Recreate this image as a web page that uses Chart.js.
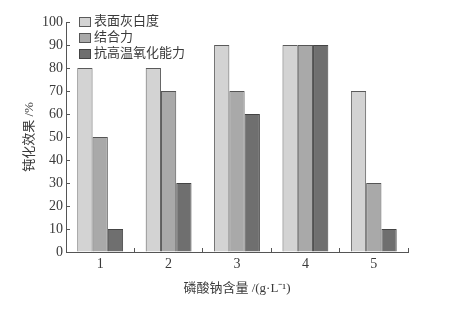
<!DOCTYPE html>
<html>
<head>
<meta charset="utf-8">
<script src="https://cdn.jsdelivr.net/npm/chart.js@4.4.0/dist/chart.umd.min.js"></script>
<style>
  body { margin: 0; background: #fff; }
  #wrap { width: 459px; height: 310px; }
</style>
</head>
<body>
<div id="wrap"><canvas id="chartPassivacao"></canvas></div>
<script>
// Dados do gráfico
const categorias = ['1', '2', '3', '4', '5'];
const nomesSeries = ['表面灰白度', '结合力', '抗高温氧化能力'];
const grisBranco = [80, 80, 90, 90, 70];   // 表面灰白度
const forcaLigacao = [50, 70, 70, 90, 30]; // 结合力
const antiOxidacao = [10, 30, 60, 90, 10]; // 抗高温氧化能力
const ticksY = [0, 10, 20, 30, 40, 50, 60, 70, 80, 90, 100];

const serif = "'Liberation Serif', 'Noto Sans CJK SC', serif";
const corTexto = '#3a3a3a';

// Legenda desenhada dentro da área do gráfico (canto superior esquerdo)
const legendaInterna = {
    id: 'legendaInterna',
    afterDraw(chart) {
        const ctx = chart.ctx;
        const x0 = chart.chartArea.left + 13;
        ctx.save();
        ctx.font = "13px " + serif;
        ctx.textBaseline = 'middle';
        chart.data.datasets.forEach((ds, i) => {
            const y = chart.chartArea.top + 16 * i;
            ctx.fillStyle = ds.backgroundColor;
            ctx.strokeStyle = ds.borderColor;
            ctx.lineWidth = 1;
            ctx.fillRect(x0 + 0.5, y - 4.5, 11, 9);
            ctx.strokeRect(x0 + 0.5, y - 4.5, 11, 9);
            ctx.fillStyle = corTexto;
            ctx.fillText(ds.label, x0 + 15, y);
        });
        ctx.restore();
    }
};

const ctxPassivacao = document.getElementById('chartPassivacao').getContext('2d');
const chartPassivacao = new Chart(ctxPassivacao, {
    type: 'bar',
    data: {
        labels: categorias,
        datasets: [
            { label: nomesSeries[0], data: grisBranco, backgroundColor: '#d3d3d3', borderColor: '#5a5a5a' },
            { label: nomesSeries[1], data: forcaLigacao, backgroundColor: '#a9a9a9', borderColor: '#555555' },
            { label: nomesSeries[2], data: antiOxidacao, backgroundColor: '#6f6f6f', borderColor: '#444444' },
        ].map(d => Object.assign(d, { borderWidth: 1, barPercentage: 1, categoryPercentage: 0.67 })),
    },
    options: {
        responsive: true,
        maintainAspectRatio: false,
        animation: false,
        layout: { padding: { left: 0, right: 51, top: 22, bottom: 0 } },
        plugins: {
            legend: { display: false },
            tooltip: { enabled: false },
        },
        scales: {
            x: {
                grid: { drawOnChartArea: false, drawTicks: true, tickLength: -4, color: '#555', offset: true },
                border: { color: '#555', width: 1 },
                ticks: { color: corTexto, font: { family: serif, size: 14 }, padding: 8 },
                title: {
                    display: true,
                    text: '磷酸钠含量 /(g·L⁻¹)',
                    color: corTexto,
                    font: { family: serif, size: 13 },
                    padding: { top: 4, bottom: 14 },
                },
                afterFit(scale) { scale.height = 58; },
            },
            y: {
                min: 0,
                max: 100,
                afterBuildTicks(scale) { scale.ticks = ticksY.map(v => ({ value: v })); },
                grid: { drawOnChartArea: false, drawTicks: true, tickLength: -4, color: '#555' },
                border: { color: '#555', width: 1 },
                ticks: { color: corTexto, font: { family: serif, size: 14 }, padding: 7 },
                title: {
                    display: true,
                    text: '钝化效果 /%',
                    color: corTexto,
                    font: { family: serif, size: 13 },
                    padding: { top: 22, bottom: 22 },
                },
                afterFit(scale) { scale.width = 66; },
            },
        },
    },
    plugins: [legendaInterna],
});
</script>
</body>
</html>
